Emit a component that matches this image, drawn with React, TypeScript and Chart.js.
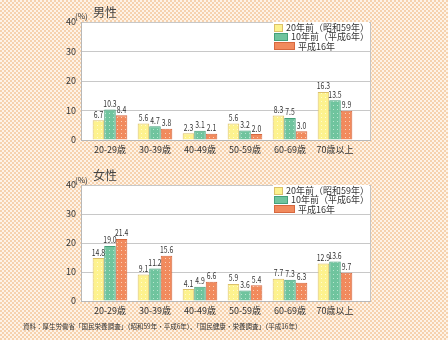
import React, { useEffect, useRef } from "react";
import { Chart, registerables } from "chart.js";
Chart.register(...registerables);

const categories = ["20-29歳", "30-39歳", "40-49歳", "50-59歳", "60-69歳", "70歳以上"];
const seriesNames = ["20年前（昭和59年）", "10年前（平成6年）", "平成16年"];
const male20yAgo = [6.7, 5.6, 2.3, 5.6, 8.3, 16.3];
const male10yAgo = [10.3, 4.7, 3.1, 3.2, 7.5, 13.5];
const maleH16 = [8.4, 3.8, 2.1, 2.0, 3.0, 9.9];
const female20yAgo = [14.8, 9.1, 4.1, 5.9, 7.7, 12.9];
const female10yAgo = [19.0, 11.2, 4.9, 3.6, 7.3, 13.6];
const femaleH16 = [21.4, 15.6, 6.6, 5.4, 6.3, 9.7];
const yTicks = [0, 10, 20, 30, 40];

const FONT = "'Noto Sans CJK JP', 'Noto Sans', sans-serif";
const fills = ["#fdf28e", "#6fc49e", "#f18a5d"];
const borders = ["#dcc06a", "#44a07a", "#d6683f"];
const dots = ["#fffbd0", "#b8e6cf", "#fbd0b8"];

function makePattern(base: string, dot: string) {
  const c = document.createElement("canvas");
  c.width = 4;
  c.height = 4;
  const x = c.getContext("2d")!;
  x.fillStyle = base;
  x.fillRect(0, 0, 4, 4);
  x.fillStyle = dot;
  x.fillRect(1, 1, 1, 1);
  return x.createPattern(c, "repeat")!;
}

const bgPlugin = {
  id: "bgPlugin",
  beforeDraw(chart: any) {
    const { ctx, chartArea: a } = chart;
    ctx.save();
    ctx.fillStyle = "#ffffff";
    ctx.fillRect(a.left, a.top, a.right - a.left, a.bottom - a.top);
    ctx.strokeStyle = "#c4c4c4";
    ctx.lineWidth = 1;
    ctx.beginPath();
    ctx.moveTo(Math.round(a.right) + 0.5, a.top);
    ctx.lineTo(Math.round(a.right) + 0.5, a.bottom);
    ctx.stroke();
    ctx.restore();
  },
};

const labelPlugin = {
  id: "labelPlugin",
  afterDatasetsDraw(chart: any) {
    const ctx = chart.ctx;
    ctx.save();
    ctx.font = `9px ${FONT}`;
    ctx.fillStyle = "#333";
    ctx.textAlign = "center";
    ctx.textBaseline = "bottom";
    chart.data.datasets.forEach((ds: any, di: number) => {
      const meta = chart.getDatasetMeta(di);
      meta.data.forEach((el: any, i: number) => {
        const v = ds.data[i].y;
        ctx.save();
        ctx.translate(el.x, el.y - 1.5);
        ctx.scale(0.76, 1);
        ctx.fillText(v.toFixed(1), 0, 0);
        ctx.restore();
      });
    });
    ctx.restore();
  },
};

function makeChart(canvas: HTMLCanvasElement, series: number[][], pad: any) {
  const patterns = fills.map((f, k) => makePattern(f, dots[k]));
  return new Chart(canvas, {
    type: "bar",
    data: {
      datasets: series.map((arr, k) => ({
        label: seriesNames[k],
        data: arr.map((v, i) => ({ x: i, y: v })),
        backgroundColor: patterns[k],
        borderColor: borders[k],
        borderWidth: 1,
        borderSkipped: "bottom",
        categoryPercentage: 0.77,
        barPercentage: 1,
      })),
    } as any,
    options: {
      animation: false,
      responsive: false,
      layout: { padding: pad },
      plugins: { legend: { display: false }, tooltip: { enabled: false } },
      scales: {
        x: {
          type: "linear",
          offset: false,
          min: -0.644,
          max: 5.778,
          grid: { display: false, drawTicks: false, offset: false },
          border: { display: true, color: "#b8b8b8" },
          afterBuildTicks: (s: any) => {
            s.ticks = categories.map((_, i) => ({ value: i }));
          },
          afterFit: (s: any) => {
            s.height = 20;
          },
          ticks: {
            autoSkip: false,
            maxRotation: 0,
            padding: 4,
            color: "#333",
            font: { family: FONT, size: 9 },
            callback: (v: any) => categories[Math.round(v)],
          },
        },
        y: {
          min: 0,
          max: 40,
          afterBuildTicks: (s: any) => {
            s.ticks = yTicks.map((v) => ({ value: v }));
          },
          afterFit: (s: any) => {
            s.width = 41;
          },
          grid: { color: "#c8c8c8", drawTicks: false },
          border: { display: true, color: "#b8b8b8" },
          ticks: {
            padding: 5,
            color: "#333",
            font: { family: FONT, size: 9 },
          },
        },
      } as any,
    },
    plugins: [bgPlugin, labelPlugin],
  });
}

function Legend({ top }: { top: number }) {
  return (
    <div
      style={{
        position: "absolute",
        left: 273,
        top,
        width: 96,
        height: 28,
        background: "#fff",
        paddingTop: 1,
      }}
    >
      {seriesNames.map((n, k) => (
        <div key={k} style={{ display: "flex", alignItems: "center", height: 9.3 }}>
          <div
            style={{
              width: 19,
              height: 6,
              marginLeft: 1,
              marginRight: 3,
              background: fills[k],
              border: `1px solid ${borders[k]}`,
            }}
          />
          <span style={{ fontSize: 9, color: "#333", whiteSpace: "nowrap", lineHeight: "9px" }}>{n}</span>
        </div>
      ))}
    </div>
  );
}

function Panel({ top, height, title, series, pad }: any) {
  const ref = useRef<HTMLCanvasElement>(null);
  useEffect(() => {
    const ch = makeChart(ref.current!, series, pad);
    return () => ch.destroy();
  }, []);
  return (
    <>
      <canvas
        ref={ref}
        width={448}
        height={height}
        style={{ position: "absolute", left: 0, top, width: 448, height }}
      />
      <div style={{ position: "absolute", left: 75, top: top + (title === "男性" ? 11 : 10), fontSize: 8, color: "#333", lineHeight: "9px" }}>(%)</div>
      <div style={{ position: "absolute", left: 93, top: top + (title === "男性" ? 5 : 3), fontSize: 12, color: "#444", lineHeight: "14px" }}>{title}</div>
    </>
  );
}

export default function App() {
  return (
    <div
      style={{
        position: "fixed",
        left: 0,
        top: 0,
        width: 448,
        height: 340,
        overflow: "hidden",
        fontFamily: FONT,
        backgroundColor: "#fae2ca",
        backgroundImage: "repeating-conic-gradient(#f6d2ae 0% 25%, #fef3e7 0% 50%)",
        backgroundSize: "4px 4px",
      }}
    >
      <Panel
        top={0}
        height={165}
        title="男性"
        series={[male20yAgo, male10yAgo, maleH16]}
        pad={{ left: 40, right: 78, top: 22, bottom: 5 }}
      />
      <Panel
        top={165}
        height={175}
        title="女性"
        series={[female20yAgo, female10yAgo, femaleH16]}
        pad={{ left: 40, right: 78, top: 20, bottom: 19 }}
      />
      <Legend top={22} />
      <Legend top={185} />
      <div
        style={{
          position: "absolute",
          left: 23,
          top: 322,
          fontSize: 7,
          color: "#333",
          lineHeight: "9px",
          whiteSpace: "nowrap",
          transform: "scaleX(0.93)",
          transformOrigin: "left center",
        }}
      >
        資料：厚生労働省「国民栄養調査」（昭和59年・平成6年）、「国民健康・栄養調査」（平成16年）
      </div>
    </div>
  );
}
